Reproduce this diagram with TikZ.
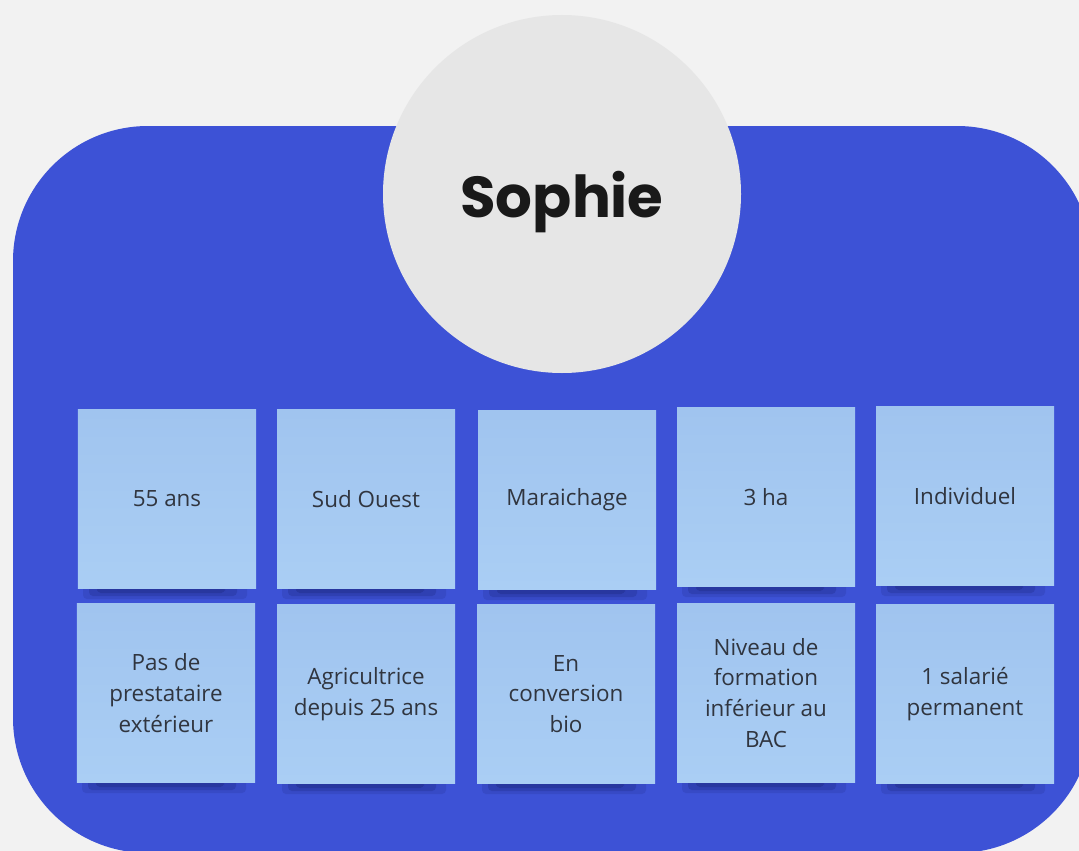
\documentclass[tikz,border=0pt]{standalone}
\usepackage{fontspec}
\setmainfont{Open Sans}
\newfontfamily\titlefont{Poppins}
\definecolor{bg}{HTML}{F2F2F2}
\definecolor{panel}{HTML}{3D52D6}
\definecolor{disc}{HTML}{E6E6E6}
\definecolor{notetop}{HTML}{A0C4EF}
\definecolor{notebot}{HTML}{AACEF4}
\definecolor{ink}{HTML}{30353F}
\definecolor{shade}{HTML}{17206E}
\tikzset{
  stickynote/.style={rectangle, minimum width=178bp, minimum height=179bp, inner sep=0pt,
    top color=notetop, bottom color=notebot, draw=none, align=center, text=ink,
    font=\fontsize{22.5}{31}\selectfont},
  namedisc/.style={circle, fill=disc, minimum size=358bp, inner sep=0pt},
  nametext/.style={font=\titlefont\bfseries\fontsize{58}{60}\selectfont, text=black!90, inner sep=0pt, anchor=base},
  notehadow/.style={fill=shade, rounded corners=4bp}
}
\begin{document}
\begin{tikzpicture}[x=1bp, y=-1bp]
\useasboundingbox (0,0) rectangle (1079,851);
\fill[bg] (0,0) rectangle (1079,851);
\begin{scope}
  \clip (0,0) rectangle (1079,851);
  \fill[panel, rounded corners=135bp] (13,126) rectangle (1092,853);
\end{scope}
\node[namedisc] (disc) at (562,194) {};
\node[nametext] (name) at (562,217) {Sophie};
\foreach \nm/\cx/\cy/\txt in {
  n1/167/499/{55 ans},
  n2/366/499/{Sud Ouest},
  n3/567/500/{Maraichage},
  n4/766/497/{3 ha},
  n5/965/496/{Individuel},
  n6/166/693/{Pas de\\prestataire\\extérieur},
  n7/366/694/{Agricultrice\\depuis 25 ans},
  n8/566/694/{En\\conversion\\bio},
  n9/766/693/{Niveau de\\formation\\inférieur au\\BAC},
  n10/965/694/{1 salarié\\permanent}} {
  \fill[notehadow, opacity=0.15] (\cx-84,\cy+84) rectangle (\cx+80,\cy+100);
  \fill[notehadow, opacity=0.22] (\cx-78,\cy+86) rectangle (\cx+70,\cy+97);
  \fill[notehadow, opacity=0.28] (\cx-70,\cy+88) rectangle (\cx+58,\cy+94);
  \node[stickynote] (\nm) at (\cx,\cy) {\txt};
}
\end{tikzpicture}
\end{document}
